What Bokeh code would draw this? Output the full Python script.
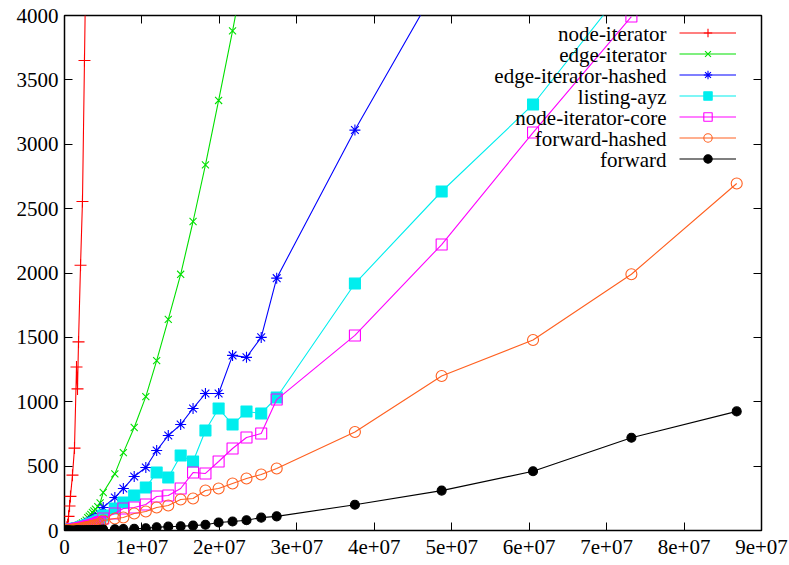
from bokeh.plotting import figure
from bokeh.models import Range1d, FixedTicker, LinearAxis, Legend, LegendItem, Label
from bokeh.embed import file_html
from bokeh.resources import INLINE

# ---------------- data (x in units of 1e7) ----------------
x_e7 = [0.005, 0.012, 0.02, 0.03, 0.04, 0.052, 0.065, 0.077, 0.103, 0.129,
        0.155, 0.168, 0.181, 0.207, 0.232, 0.258, 0.28, 0.30, 0.32, 0.34,
        0.36, 0.38, 0.40, 0.43, 0.46, 0.50, 0.65, 0.76, 0.90, 1.05,
        1.19, 1.34, 1.50, 1.66, 1.82, 1.99, 2.17, 2.35, 2.54, 2.74,
        3.75, 4.87, 6.05, 7.32, 8.68]

node_iterator = [2, 5, 10, 25, 45, 110, 190, 265, 430, 640, 1270, 1100, 1465,
                 2060, 2555, 3650, 4600]

edge_iterator = [0.5, 1, 2, 3, 5, 8, 11, 14, 20, 27, 35, 38, 42, 50, 58, 68, 80,
                 100, 112, 125, 140, 152, 165, 185, 215,
                 295, 440, 605, 800, 1040, 1320, 1640, 1990, 2400, 2840, 3340,
                 3880, 4450]

edge_iterator_hashed = [0.3, 0.8, 1.5, 2.5, 4, 6, 8, 10, 15, 20, 26, 28, 31, 37,
                        44, 50, 56, 62, 68, 75, 82, 90, 98, 110, 125,
                        179, 256, 326, 419, 489, 621, 738, 823, 948, 1064, 1064,
                        1360, 1345, 1500, 1960, 3110, 4290]

listing_ayz = [0.2, 0.5, 1, 1.6, 2.6, 4, 5, 6.5, 10, 13, 17, 18, 20, 24, 29, 33,
               36, 40, 44, 49, 53, 58, 64, 72, 82,
               117, 171, 217, 272, 334, 450, 412, 583, 536, 777, 948, 823, 924,
               909, 1033, 1918, 2633, 3309, 4280]

node_iterator_core = [0.15, 0.4, 0.8, 1.3, 2, 3, 4, 5, 8, 10, 13, 14, 16, 19, 23,
                      26, 29, 32, 35, 39, 42, 46, 51, 57, 65,
                      93, 132, 171, 179, 202, 264, 272, 326, 450, 443, 536, 637,
                      722, 753, 1017, 1515, 2221, 3091, 3992]

forward_hashed = [0.13, 0.35, 0.7, 1.1, 1.7, 2.6, 3.4, 4.3, 6.6, 8.8, 11, 12,
                  13.5, 16, 19, 22, 25, 27, 30, 33, 36, 39, 43, 48, 55,
                  78, 93, 101, 132, 148, 179, 194, 241, 249, 311, 326, 365, 404,
                  435, 482, 765, 1200, 1480, 1990, 2695]

forward = [0.01, 0.02, 0.04, 0.06, 0.1, 0.15, 0.2, 0.25, 0.4, 0.55, 0.7, 0.8,
           0.9, 1.1, 1.3, 1.5, 1.7, 1.9, 2.1, 2.4, 2.7, 3, 3.4, 4, 5,
           8, 10, 12, 14, 17, 25, 30, 33, 38, 45, 62, 70, 80, 100, 110,
           200, 310, 460, 720, 925]

series_names = ["node-iterator", "edge-iterator", "edge-iterator-hashed",
                "listing-ayz", "node-iterator-core", "forward-hashed", "forward"]
series_values = [node_iterator, edge_iterator, edge_iterator_hashed, listing_ayz,
                 node_iterator_core, forward_hashed, forward]

x_ticks_e7 = [0, 1, 2, 3, 4, 5, 6, 7, 8, 9]
x_tick_labels = ["0", "1e+07", "2e+07", "3e+07", "4e+07", "5e+07", "6e+07",
                 "7e+07", "8e+07", "9e+07"]
y_ticks = [0, 500, 1000, 1500, 2000, 2500, 3000, 3500, 4000]

# ---------------- styles ----------------
colors = ["#ff0000", "#00e000", "#0000ff", "#00eeee", "#ff00ff", "#ff6020", "#000000"]
markers = ["cross", "x", "asterisk", "square", "square", "circle", "circle"]
msizes = [12, 10, 11, 11, 11, 11, 9]
fills = [None, None, None, "#00eeee", None, None, "#000000"]

FONT = "'Liberation Serif', 'DejaVu Serif', serif"
W, H = 789, 565

p = figure(width=W, height=H, output_backend="svg", toolbar_location=None,
           x_range=Range1d(0, 9e7), y_range=Range1d(0, 4000),
           min_border_left=64, min_border_right=28, min_border_top=15,
           min_border_bottom=35)
p.grid.visible = False
p.outline_line_color = "black"
p.outline_line_width = 1.5
p.background_fill_color = "white"
p.border_fill_color = "white"

xticks = [t * 1e7 for t in x_ticks_e7]

def style_axis(ax, ticks, labels, standoff=6):
    ax.ticker = FixedTicker(ticks=ticks)
    ax.axis_line_color = None
    ax.major_tick_in = 8
    ax.major_tick_out = 0
    ax.major_tick_line_color = "black"
    ax.major_tick_line_width = 1
    ax.minor_tick_line_color = None
    ax.major_label_text_font = FONT
    ax.major_label_text_font_size = "21px"
    ax.major_label_text_color = "black"
    ax.major_label_standoff = standoff
    ax.major_label_overrides = {t: l for t, l in zip(ticks, labels)}

style_axis(p.xaxis[0], xticks, x_tick_labels, standoff=9)
style_axis(p.yaxis[0], y_ticks, [str(v) for v in y_ticks])

top_ax = LinearAxis()
style_axis(top_ax, xticks, [""] * len(xticks))
top_ax.major_label_text_font_size = "0px"
p.add_layout(top_ax, "above")
right_ax = LinearAxis()
style_axis(right_ax, y_ticks, [""] * len(y_ticks))
right_ax.major_label_text_font_size = "0px"
p.add_layout(right_ax, "right")

items = []
for name, vals, c, m, s, f in zip(series_names, series_values, colors, markers, msizes, fills):
    xs = [v * 1e7 for v in x_e7[:len(vals)]]
    lr = p.line(xs, vals, line_color=c, line_width=1.1)
    sr = p.scatter(xs, vals, marker=m, size=s, line_color=c, line_width=1.1,
                   fill_color=f if f else None)
    items.append(LegendItem(label="", renderers=[lr, sr]))

legend = Legend(items=items, location=(615, 361), orientation="vertical",
                glyph_width=57, glyph_height=21, label_height=21, label_width=0,
                label_standoff=0, padding=0, margin=0, spacing=0,
                border_line_color=None, background_fill_alpha=0,
                label_text_font_size="1px")
p.add_layout(legend, "center")

for i, name in enumerate(series_names):
    p.add_layout(Label(x=602, y=530 - 33.5 - 21 * i, x_units="screen", y_units="screen",
                       text=name, text_font=FONT, text_font_size="21px",
                       text_color="black", text_align="right", text_baseline="middle"))

open("out.html", "w").write(file_html(p, INLINE))
